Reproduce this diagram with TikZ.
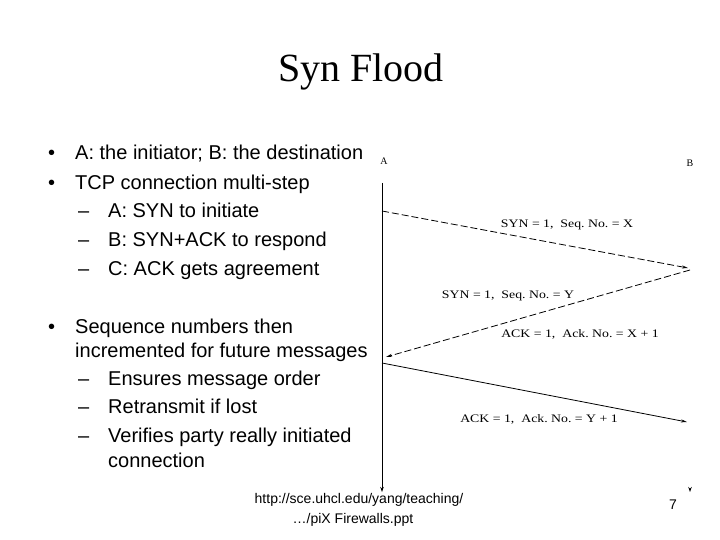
\documentclass[tikz,border=0pt]{standalone}
\usepackage{fontspec}
\setmainfont{Liberation Serif}
\setsansfont{Liberation Sans}
\newfontfamily\msgfont[FakeStretch=1.2]{Liberation Serif}
\usetikzlibrary{arrows.meta, positioning}
\tikzset{
    heading/.style={font=\fontsize{40}{48}\selectfont, anchor=base, inner sep=0pt},
    bullet/.style={font=\sffamily\fontsize{20}{24}\selectfont, anchor=base west, inner sep=0pt},
    footer/.style={font=\sffamily\fontsize{14}{17}\selectfont, anchor=base, inner sep=0pt},
    party/.style={font=\fontsize{10}{12}\selectfont, anchor=base, inner sep=0pt},
    msg/.style={font=\msgfont\fontsize{11.5}{14}\selectfont, anchor=base, inner sep=0pt},
    timeline/.style={line width=0.9pt, -{Stealth[length=5pt, width=3.5pt]}},
    arrow/.style={line width=0.8pt, -{Stealth[length=6pt, width=3pt]}},
    dasharrow/.style={arrow, dash pattern=on 7pt off 3pt}
}
\frenchspacing

\begin{document}
\begin{tikzpicture}[x=1pt, y=-1pt]
        \useasboundingbox (0,0) rectangle (720,540);
        % Title
        \node (title) [heading] at (361,82) {Syn Flood};

        % Bullets
        \node (dot1) [bullet] at (48,160) {•};
        \node (item1) [bullet] at (75,160) {A: the initiator; B: the destination};
        \node (dot2) [bullet] at (48,190) {•};
        \node (item2) [bullet] at (75,190) {TCP connection multi-step};
        \node (dash1) [bullet] at (78,218) {–};
        \node (sub1) [bullet] at (108,218) {A: SYN to initiate};
        \node (dash2) [bullet] at (78,247) {–};
        \node (sub2) [bullet] at (108,247) {B: SYN+ACK to respond};
        \node (dash3) [bullet] at (78,275) {–};
        \node (sub3) [bullet] at (108,275) {C: ACK gets agreement};

        \node (dot3) [bullet] at (48,333) {•};
        \node (item3) [bullet] at (75,333) {Sequence numbers then};
        \node (item3b) [bullet] at (75,357) {incremented for future messages};
        \node (dash4) [bullet] at (78,385) {–};
        \node (sub4) [bullet] at (108,385) {Ensures message order};
        \node (dash5) [bullet] at (78,413) {–};
        \node (sub5) [bullet] at (108,413) {Retransmit if lost};
        \node (dash6) [bullet] at (78,442) {–};
        \node (sub6) [bullet] at (108,442) {Verifies party really initiated};
        \node (sub6b) [bullet] at (108,467) {connection};

        % Parties
        \node (partyA) [party] at (384,165) {A};
        \node (partyB) [party] at (690,167) {B};
        \coordinate (Atop) at (382,183);
        \coordinate (Abot) at (382,492);
        \coordinate (Btop) at (690,183);
        \coordinate (Bbot) at (690,492);

        % Handshake points
        \coordinate (synA) at (382,211);
        \coordinate (synB) at (688,268);
        \coordinate (ackB) at (690,270);
        \coordinate (ackA) at (386,357);
        \coordinate (finA) at (382,363);
        \coordinate (finB) at (687,422);

        % Connections
        \draw [timeline, white, -{Stealth[black, length=5pt, width=3.5pt]}] (Btop) -- (Bbot);
        \draw [timeline] (Atop) -- (Abot);
        \draw [dasharrow] (synA) -- (synB);
        \draw [dasharrow] (ackB) -- (ackA);
        \draw [arrow] (finA) -- (finB);

        % Message labels
        \node (msg1) [msg] at (567,227) {SYN = 1,\ \ Seq. No. = X};
        \node (msg2) [msg] at (508,298) {SYN = 1,\ \ Seq. No. = Y};
        \node (msg3) [msg] at (580,337) {ACK = 1,\ \ Ack. No. = X + 1};
        \node (msg4) [msg] at (539,422) {ACK = 1,\ \ Ack. No. = Y + 1};

        % Footer
        \node (src1) [footer] at (359,503) {http://sce.uhcl.edu/yang/teaching/};
        \node (src2) [footer] at (353,523) {…/piX Firewalls.ppt};
        \node (page) [footer] at (673,509) {7};
    \end{tikzpicture}
\end{document}
